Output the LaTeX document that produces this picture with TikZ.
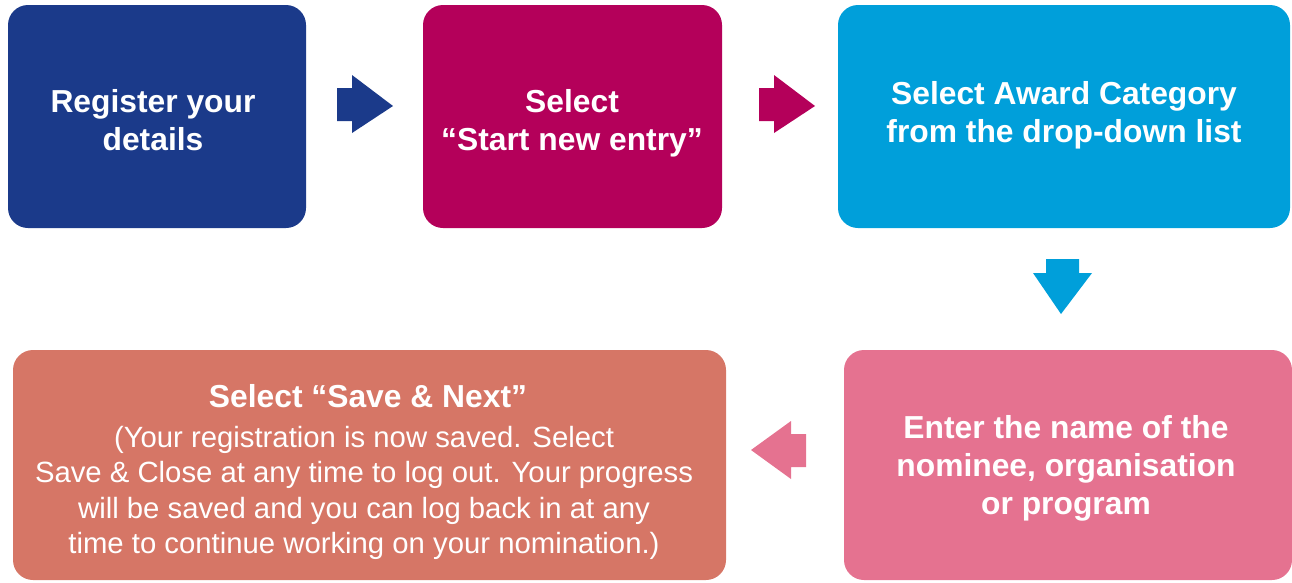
\documentclass[tikz,border=0pt]{standalone}
\usepackage{fontspec}
\setmainfont{Liberation Sans}
\definecolor{cnavy}{HTML}{1B3A8A}
\definecolor{cmag}{HTML}{B4005A}
\definecolor{ccyan}{HTML}{009FDA}
\definecolor{cpink}{HTML}{E57290}
\definecolor{csalmon}{HTML}{D67666}
\begin{document}
\begin{tikzpicture}[x=1pt,y=-1pt,
  box/.style={rounded corners=20pt},
  boxtext/.style={text=white,align=center,font=\bfseries\fontsize{31.8}{38}\selectfont,inner sep=0pt},
  bodytext/.style={text=white,align=center,font=\fontsize{29.3}{35.3}\selectfont,inner sep=0pt}]
\useasboundingbox (0,0) rectangle (1292,582);
% boxes
\fill[cnavy,box] (8,5) rectangle (306,228);
\fill[cmag,box] (423,5) rectangle (722,228);
\fill[ccyan,box] (838,5) rectangle (1290,228);
\fill[cpink,box] (844,350) rectangle (1292,580);
\fill[csalmon,box] (13,350) rectangle (726,580);
% texts
\node[boxtext] (t1) at (153,120) {Register your\\details};
\node[boxtext] (t2) at (572,123) {Select\\“Start new entry”};
\node[boxtext] (t3) at (1064,115) {Select Award Category\\from the drop-down list};
\node[boxtext] (t4) at (1066,468) {Enter the name of the\\nominee, organisation\\or program};
\node[text=white,font=\bfseries\fontsize{31.8}{36}\selectfont,inner sep=0pt,anchor=base] (t5) at (368,407) {Select “Save \& Next”};
\node[bodytext,anchor=north] (t6) at (364,426) {(Your registration is now saved. Select\\Save \& Close at any time to log out. Your progress\\will be saved and you can log back in at any\\time to continue working on your nomination.)};
% block arrows
\fill[cnavy] (337,88) -- (352,88) -- (352,75) -- (393,106) -- (352,133) -- (352,121) -- (337,121) -- cycle;
\fill[cmag] (759,88) -- (774,88) -- (774,75) -- (815,106) -- (774,133) -- (774,121) -- (759,121) -- cycle;
\fill[ccyan] (1046,259) -- (1079,259) -- (1079,273) -- (1092,273) -- (1061,314) -- (1033,273) -- (1046,273) -- cycle;
\fill[cpink] (806,434) -- (791,434) -- (791,421) -- (751,450) -- (791,479) -- (791,467) -- (806,467) -- cycle;
\end{tikzpicture}
\end{document}
